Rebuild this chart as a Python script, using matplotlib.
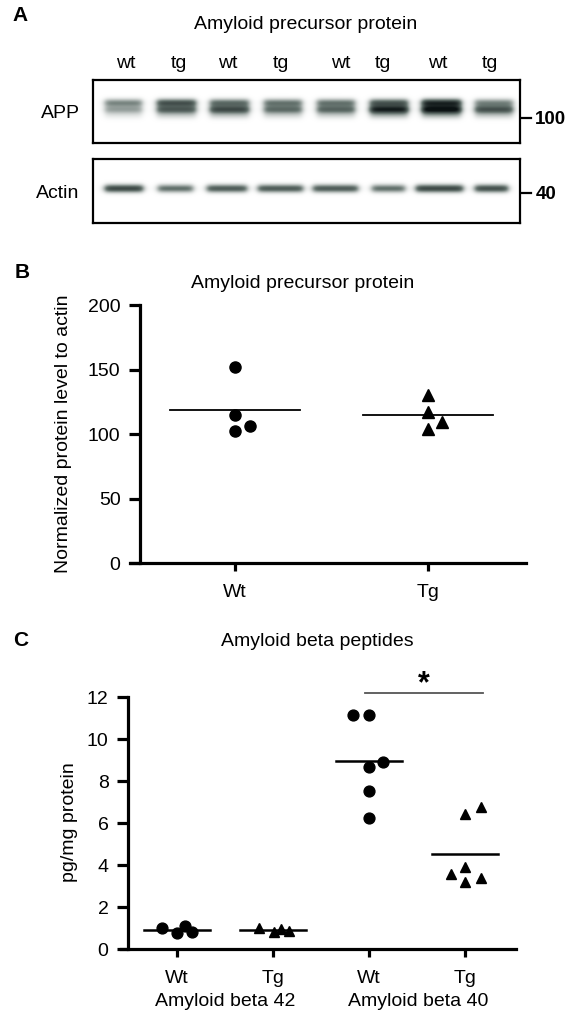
import numpy as np
import matplotlib
matplotlib.use("Agg")
import matplotlib.pyplot as plt
from matplotlib.colors import LinearSegmentedColormap

plt.rcParams['font.family'] = ['Liberation Sans', 'DejaVu Sans']

# ---------------- data ----------------
lane_labels = ['wt', 'tg', 'wt', 'tg', 'wt', 'tg', 'wt', 'tg']
app_upper = [0.42, 0.65, 0.52, 0.48, 0.48, 0.62, 0.85, 0.42]
app_lower = [0.32, 0.60, 0.68, 0.52, 0.55, 0.90, 1.00, 0.65]
actin_band = [0.72, 0.52, 0.62, 0.62, 0.62, 0.52, 0.72, 0.68]

b_categories = ['Wt', 'Tg']
b_wt = [152, 115, 106, 102]
b_tg = [130, 117, 109, 103.5]
b_wt_jitter = [0, 0, 0.08, 0]
b_tg_jitter = [0, 0, 0.075, 0]

c_categories = ['Wt', 'Tg', 'Wt', 'Tg']
c_groups = ['Amyloid beta 42', 'Amyloid beta 40']
ab42_wt = [1.02, 0.76, 1.10, 0.82]
ab42_tg = [0.98, 0.79, 0.94, 0.87]
ab40_wt = [11.15, 11.15, 8.90, 8.66, 7.54, 6.22]
ab40_tg = [6.43, 6.77, 3.91, 3.57, 3.18, 3.39]
ab42_wt_jitter = [-0.16, 0.0, 0.08, 0.16]
ab42_tg_jitter = [-0.15, 0.01, 0.08, 0.17]
ab40_wt_jitter = [-0.17, 0.0, 0.15, 0.0, 0.0, 0.0]
ab40_tg_jitter = [0.0, 0.17, 0.0, -0.15, 0.0, 0.17]

# lane geometry on the blot (pixel columns)
app_lane_left = [105, 157, 210, 264, 317, 370, 422, 475]
app_lane_right = [142, 196, 249, 302, 355, 408, 461, 513]
actin_lane_left = [105, 158, 207, 258, 313, 372, 416, 475]
actin_lane_right = [143, 193, 247, 303, 358, 405, 463, 508]

W, H = 574, 1019
fig = plt.figure(figsize=(W / 100, H / 100), dpi=100)


def px_axes(x0, y0, x1, y1):
    return fig.add_axes([x0 / W, 1 - y1 / H, (x1 - x0) / W, (y1 - y0) / H])


cmap = LinearSegmentedColormap.from_list('blot', ['#ffffff', '#66746f', '#0b1213'])


def blot_image(x0, x1, y0, y1, lefts, rights, bands, scale=4):
    w, h = x1 - x0, y1 - y0
    xs = x0 + (np.arange(w * scale) + 0.5) / scale
    ys = (np.arange(h * scale) + 0.5) / scale
    img = np.zeros((len(ys), len(xs)))
    for i, (a, b) in enumerate(zip(lefts, rights)):
        xp = 1 / (1 + np.exp(-(xs - a) / 1.8)) / (1 + np.exp((xs - b) / 1.8))
        yp = np.zeros_like(ys)
        for cy, sig, amp in bands[i]:
            yp += amp * np.exp(-0.5 * ((ys - cy) / sig) ** 2)
        img += np.outer(yp, xp)
    return np.clip(img, 0, 1)


# APP blot
bx0, bx1 = 93, 520
ax_app = px_axes(bx0, 80, bx1, 143)
app_bands = [[(23.5, 2.7, u), (30.0, 2.8, l), (35.5, 2.8, 0.22 * l)]
             for u, l in zip(app_upper, app_lower)]
img = blot_image(bx0, bx1, 80, 143, app_lane_left, app_lane_right, app_bands)
ax_app.imshow(img, cmap=cmap, vmin=0, vmax=1, extent=(bx0, bx1, 63, 0),
              aspect='auto', interpolation='bilinear')
ax_app.set_xticks([]); ax_app.set_yticks([])
for s in ax_app.spines.values():
    s.set_linewidth(1.6)

# Actin blot
ax_act = px_axes(bx0, 159, bx1, 223)
act_bands = [[(29.5, 2.7, a)] for a in actin_band]
img2 = blot_image(bx0, bx1, 159, 223, actin_lane_left, actin_lane_right, act_bands)
ax_act.imshow(img2, cmap=cmap, vmin=0, vmax=1, extent=(bx0, bx1, 64, 0),
              aspect='auto', interpolation='bilinear')
ax_act.set_xticks([]); ax_act.set_yticks([])
for s in ax_act.spines.values():
    s.set_linewidth(1.6)


def style_axes(ax, spine_x):
    for side in ('top', 'right'):
        ax.spines[side].set_visible(False)
    ax.spines['left'].set_position(('data', spine_x))
    ax.spines['left'].set_linewidth(2.3)
    ax.spines['bottom'].set_linewidth(2.3)
    ax.tick_params(axis='y', length=8, width=2.3, pad=6, labelsize=14)
    ax.tick_params(axis='x', length=6, width=2.3, pad=9, labelsize=14)
    ax.set_facecolor('none')


# ---------------- panel B ----------------
axb = px_axes(130, 305, 526, 563)
axb.set_xlim(-0.544, 1.508)
axb.set_ylim(0, 200)
style_axes(axb, -0.492)
axb.set_yticks([0, 50, 100, 150, 200])
axb.set_xticks(range(len(b_categories)))
axb.set_xticklabels(b_categories)
axb.plot(np.array(b_wt_jitter) + 0, b_wt, 'o', color='black', ms=8, clip_on=False)
axb.plot(np.array(b_tg_jitter) + 1, b_tg, '^', color='black', ms=8, clip_on=False)
for i, vals in enumerate([b_wt, b_tg]):
    m = np.mean(vals)
    axb.plot([i - 0.337, i + 0.337], [m, m], color='black', lw=1.3)

# ---------------- panel C ----------------
axc = px_axes(121, 697, 516, 949)
axc.set_xlim(-0.583, 3.531)
axc.set_ylim(0, 12)
style_axes(axc, -0.51)
axc.set_yticks(range(0, 13, 2))
axc.set_xticks(range(len(c_categories)))
axc.set_xticklabels(c_categories)
c_series = [(ab42_wt, ab42_wt_jitter, 'o'), (ab42_tg, ab42_tg_jitter, '^'),
            (ab40_wt, ab40_wt_jitter, 'o'), (ab40_tg, ab40_tg_jitter, '^')]
for i, (vals, jit, mk) in enumerate(c_series):
    axc.plot(np.array(jit) + i, vals, mk, color='black', ms=7.8, clip_on=False)
    m = np.mean(vals)
    axc.plot([i - 0.345, i + 0.345], [m, m], color='black', lw=1.8)
axc.plot([1.96, 3.19], [12.17, 12.17], color='#555555', lw=1.3, clip_on=False)

# ---------------- overlay texts ----------------
ov = fig.add_axes([0, 0, 1, 1])
ov.set_xlim(0, W); ov.set_ylim(H, 0); ov.axis('off')

ov.text(20, 15, 'A', fontsize=15, fontweight='bold', ha='center', va='center')
ov.text(306, 24, 'Amyloid precursor protein', fontsize=14, ha='center', va='center')
lane_x = [126, 179, 228, 281, 341, 383, 438, 490]
for x, lab in zip(lane_x, lane_labels):
    ov.text(x, 63, lab, fontsize=14, ha='center', va='center')
ov.text(60, 113, 'APP', fontsize=14, ha='center', va='center')
ov.text(58, 193, 'Actin', fontsize=14, ha='center', va='center')
ov.plot([522, 531], [118, 118], color='black', lw=1.6)
ov.plot([522, 531], [193, 193], color='black', lw=1.6)
ov.text(535, 119, '100', fontsize=13.5, fontweight='bold', ha='left', va='center')
ov.text(536, 194, '40', fontsize=13.5, fontweight='bold', ha='left', va='center')

ov.text(22, 273, 'B', fontsize=15, fontweight='bold', ha='center', va='center')
ov.text(303, 283, 'Amyloid precursor protein', fontsize=14, ha='center', va='center')
ov.text(64, 434, 'Normalized protein level to actin', fontsize=14, rotation=90,
        ha='center', va='center')

ov.text(21, 641, 'C', fontsize=15, fontweight='bold', ha='center', va='center')
ov.text(317, 641, 'Amyloid beta peptides', fontsize=14, ha='center', va='center')
ov.text(69, 822, 'pg/mg protein', fontsize=14, rotation=90, ha='center', va='center')
ov.text(225, 1002, c_groups[0], fontsize=14, ha='center', va='center')
ov.text(418, 1002, c_groups[1], fontsize=14, ha='center', va='center')
ov.text(424, 684, '*', fontsize=22, fontweight='bold', ha='center', va='center')

fig.savefig('out.png', dpi=100, facecolor='white')
